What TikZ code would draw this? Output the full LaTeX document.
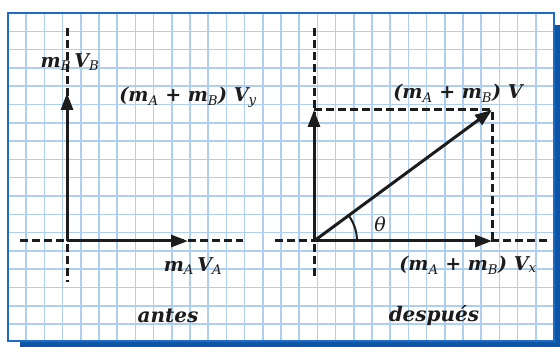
\documentclass[tikz,border=0pt]{standalone}
\usepackage{fontspec}
\setmainfont{DejaVu Serif}
\usepackage{tikz}
\usetikzlibrary{arrows.meta,positioning,calc}
\definecolor{gridblue}{HTML}{AFCFEE}
\definecolor{frameblue}{HTML}{1F6CC4}
\definecolor{shadeblue}{HTML}{0E55A6}
\definecolor{ink}{HTML}{1C1C1C}
\newcommand{\mass}[1]{\textbf{\textit{m}}\textsubscript{\normalfont\itshape #1}}
\newcommand{\velo}[1]{\textbf{\textit{V}}\textsubscript{\normalfont\itshape #1}}

\begin{document}
\begin{tikzpicture}[x=1pt,y=-1pt,
  gridline/.style={draw=gridblue,line width=1.5pt},
  vec/.style={-{Triangle[length=17pt,width=12pt]},line width=3pt,draw=ink},
  axis/.style={line width=3pt,draw=ink,dash pattern=on 8pt off 4pt},
  lbl/.style={font=\fontsize{19}{22}\selectfont\bfseries\itshape,inner sep=0pt,text=ink},
  stagelbl/.style={font=\fontsize{20}{24}\selectfont\bfseries\itshape,inner sep=0pt,text=ink}]
  \useasboundingbox (0,0) rectangle (560,347);

  % frame, shadow and grid paper
  \fill[shadeblue] (20,25) rectangle (560,347);
  \fill[white] (8,13) rectangle (554,341);
  \begin{scope}
    \clip (8,13) rectangle (554,341);
    \foreach \i in {1,...,29} \draw[gridline] (8+\i*18.2,13) -- (8+\i*18.2,341);
    \foreach \j in {1,...,17} \draw[gridline] (8,13+\j*18.3) -- (554,13+\j*18.3);
  \end{scope}
  \draw[frameblue,line width=2.2pt] (8,13) rectangle (554,341);

  % antes
  \coordinate (oA) at (67,241);
  \coordinate (pA) at (188,241);
  \coordinate (pB) at (67,93);
  \coordinate (aW) at (20,241);
  \coordinate (aE) at (243,241);
  \coordinate (aN) at (67,28);
  \coordinate (aS) at (67,282);
  \draw[axis] (aW) -- (aE);
  \draw[axis] (aN) -- (aS);
  \draw[vec] (oA) -- (pA);
  \draw[vec] (oA) -- (pB);

  \node[lbl] (mBVB) at (70,62) {\mass{B}\,\velo{B}};
  \node[lbl] (Vy) at (188,97) {(\mass{A} + \mass{B}) \velo{y}};
  \node[lbl] (mAVA) at (193,266) {\mass{A}\,\velo{A}};
  \node[stagelbl] (antes) at (168,316) {antes};

  % despues
  \coordinate (oB) at (314,241);
  \coordinate (tx) at (492,241);
  \coordinate (ty) at (314,110);
  \coordinate (tv) at (492,110);
  \coordinate (bW) at (275,241);
  \coordinate (bE) at (547,241);
  \coordinate (bN) at (314,28);
  \coordinate (bS) at (314,277);
  \draw[axis] (bW) -- (bE);
  \draw[axis] (bN) -- (bS);
  \draw[axis] (ty) -- (tv) -- (tx);
  \draw[vec] (oB) -- (tx);
  \draw[vec] (oB) -- (ty);
  \draw[vec] (oB) -- (tv);
  \draw[line width=2pt,draw=ink] (oB) ++(43,0) arc[start angle=0,end angle=-36.4,radius=43];

  \node[lbl] (V) at (458,93) {(\mass{A} + \mass{B}) \textbf{\textit{V}}};
  \node[lbl] (Vx) at (468,265) {(\mass{A} + \mass{B}) \velo{x}};
  \node[font=\fontsize{19}{22}\selectfont\itshape,inner sep=0pt,text=ink] (theta) at (380,224) {θ};
  \node[stagelbl] (despues) at (434,316) {después};
\end{tikzpicture}
\end{document}
